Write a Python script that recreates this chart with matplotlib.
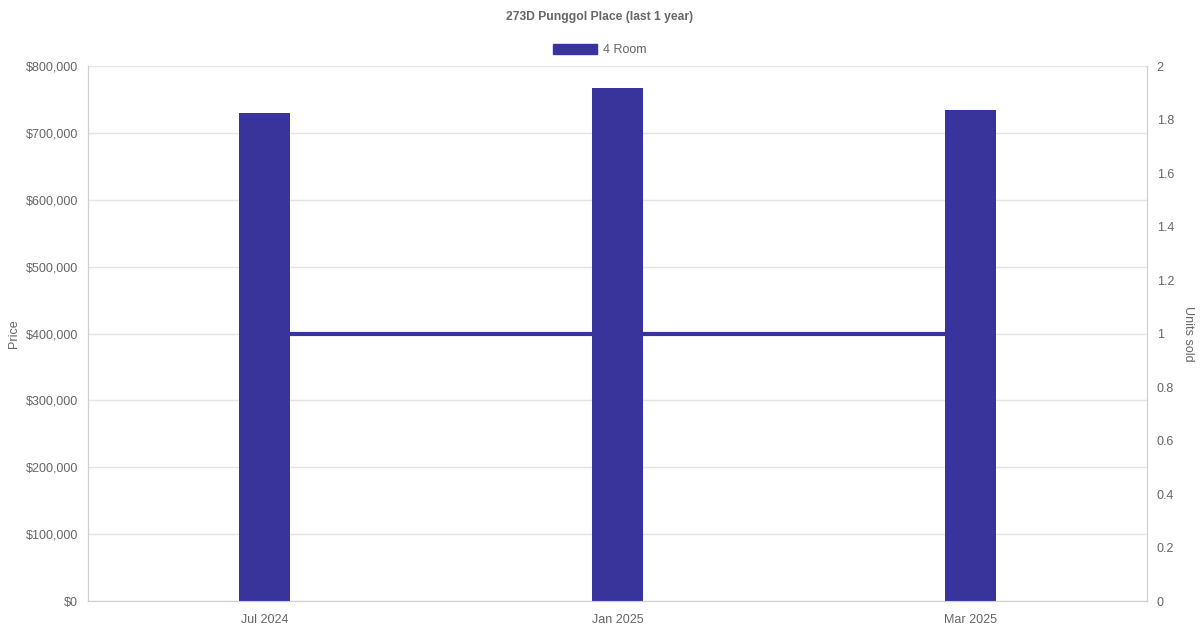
import matplotlib.pyplot as plt
from matplotlib.patches import Patch
from matplotlib.ticker import FuncFormatter

plt.rcParams['font.family'] = ['Liberation Sans', 'DejaVu Sans']

# data
months = ['Jul 2024', 'Jan 2025', 'Mar 2025']
prices = [730000, 767000, 734000]
units_sold = [1, 1, 1]

bar_color = '#38349c'
grid_color = '#e5e5e5'
text_color = '#666666'

fig = plt.figure(figsize=(12, 6.3), dpi=100)
ax = fig.add_axes([0.0733, 0.046, 0.8825, 0.8492])
ax2 = ax.twinx()

ax.set_xlim(0, 3)
ax.set_ylim(0, 800000)
ax2.set_ylim(0, 2)

x = [i + 0.5 for i in range(len(months))]
ax.bar(x, prices, width=0.142, color=bar_color, zorder=3)
# units line drawn in the price axes so it sits above the grid, under the bars
ax.plot(x, units_sold, color=bar_color, linewidth=3, zorder=2,
        transform=ax2.transData)

ax.set_yticks(range(0, 800001, 100000))
ax.yaxis.set_major_formatter(FuncFormatter(lambda v, p: f'${int(v):,}'))
ax2.set_yticks([i / 5 for i in range(11)])
ax2.yaxis.set_major_formatter(FuncFormatter(lambda v, p: f'{v:g}'))
ax.set_xticks(x)
ax.set_xticklabels(months)

ax.grid(axis='y', color=grid_color, linewidth=1)
ax.set_axisbelow(True)

for a in (ax, ax2):
    for s in a.spines.values():
        s.set_color('#d0d0d0')
    a.spines['top'].set_visible(False)
    a.tick_params(colors=text_color, labelsize=9, length=0, pad=7)
ax.tick_params(axis='x', pad=9)

ax.set_ylabel('Price', color=text_color, fontsize=9, labelpad=4)
ax2.set_ylabel('Units sold', color=text_color, fontsize=9, rotation=270, labelpad=14)

fig.text(0.5, 0.973, '273D Punggol Place (last 1 year)', ha='center', va='center',
         fontsize=8.7, fontweight='bold', color=text_color)
fig.legend(handles=[Patch(color=bar_color, label='4 Room')], loc='center',
           bbox_to_anchor=(0.5, 0.921), frameon=False, fontsize=9,
           labelcolor=text_color, handlelength=3.5, handleheight=0.9,
           handletextpad=0.5)

plt.savefig('out.png')
